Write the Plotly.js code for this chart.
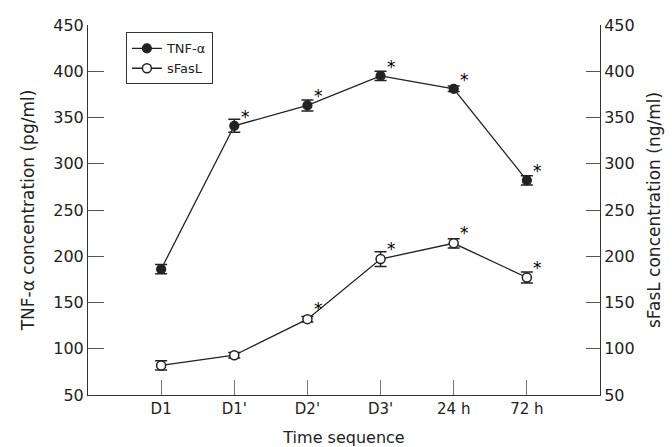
<!DOCTYPE html>
<html><head><meta charset="utf-8">
<script src="https://cdn.plot.ly/plotly-3.0.1.min.js"></script>
<style>html,body{margin:0;padding:0;background:#fff}#c{width:672px;height:447px}</style>
</head><body><div id="c"></div>
<script>
const categories = ["D1", "D1'", "D2'", "D3'", "24 h", "72 h"];
const tnf = [186, 341, 363, 395, 381, 282];
const tnfErr = [5, 7, 6, 5, 3, 5];
const sfasl = [82, 93, 132, 197, 214, 177];
const sfaslErr = [5, 3, 3, 8, 5, 6];
const tnfStar = [false, true, true, true, true, true];
const sfaslStar = [false, false, true, true, true, true];

const xs = categories.map((c, i) => i + 1);
const font = "'DejaVu Sans', sans-serif";
const ink = "#222";

const traces = [
  {x: xs, y: tnf, name: "TNF-\u03b1", mode: "lines+markers", type: "scatter",
   line: {color: ink, width: 1.3}, marker: {symbol: "circle", size: 9, color: ink, line: {color: ink, width: 1.2}},
   error_y: {type: "data", array: tnfErr, visible: true, color: ink, thickness: 1.5, width: 6}},
  {x: xs, y: sfasl, name: "sFasL", mode: "lines+markers", type: "scatter",
   line: {color: ink, width: 1.3}, marker: {symbol: "circle", size: 9, color: "#fff", line: {color: ink, width: 1.5}},
   error_y: {type: "data", array: sfaslErr, visible: true, color: ink, thickness: 1.5, width: 6}},
  {x: [xs[0]], y: [50], yaxis: "y2", mode: "markers", showlegend: false, hoverinfo: "skip",
   marker: {opacity: 0}}
];

const annotations = [];
xs.forEach((x, i) => {
  if (tnfStar[i]) annotations.push({x: x, y: tnf[i], xref: "x", yref: "y", text: "*", showarrow: false,
    xshift: 11, yshift: 9, font: {family: font, size: 17, color: "#000"}});
  if (sfaslStar[i]) annotations.push({x: x, y: sfasl[i], xref: "x", yref: "y", text: "*", showarrow: false,
    xshift: 11, yshift: 10, font: {family: font, size: 17, color: "#000"}});
});

const tickvals = [50, 100, 150, 200, 250, 300, 350, 400, 450];
const layout = {
  width: 672, height: 447,
  margin: {l: 88, r: 72, t: 25, b: 52},
  paper_bgcolor: "#fff", plot_bgcolor: "#fff",
  font: {family: font, color: ink, size: 15},
  showlegend: true,
  legend: {x: 0.074, y: 0.98, xanchor: "left", yanchor: "top", bordercolor: "#333", borderwidth: 1,
    bgcolor: "#fff", font: {family: font, size: 13, color: ink}, tracegroupgap: 0, itemwidth: 30},
  xaxis: {range: [0, 7], tickvals: xs, ticktext: categories, showgrid: false, zeroline: false,
    showline: true, linecolor: "#333", linewidth: 1, ticks: "inside", ticklen: 15, tickcolor: "#777",
    tickfont: {family: font, size: 15, color: ink},
    title: {text: "Time sequence", font: {family: font, size: 16, color: ink}, standoff: 21}},
  yaxis: {range: [50, 450], tickvals: tickvals, showgrid: false, zeroline: false,
    showline: true, linecolor: "#333", linewidth: 1, ticks: "inside", ticklen: 16, tickcolor: "#555",
    tickfont: {family: font, size: 16, color: ink},
    title: {text: "TNF-\u03b1 concentration (pg/ml)", font: {family: font, size: 17, color: ink}, standoff: 14}},
  yaxis2: {range: [50, 450], tickvals: tickvals, overlaying: "y", side: "right", showgrid: false, zeroline: false,
    showline: true, linecolor: "#333", linewidth: 1, ticks: "inside", ticklen: 14, tickcolor: "#555",
    tickfont: {family: font, size: 16, color: ink},
    title: {text: "sFasL concentration (ng/ml)", font: {family: font, size: 17, color: ink}, standoff: 14}},
  annotations: annotations
};
Plotly.newPlot("c", traces, layout, {displayModeBar: false, staticPlot: true});
</script></body></html>
